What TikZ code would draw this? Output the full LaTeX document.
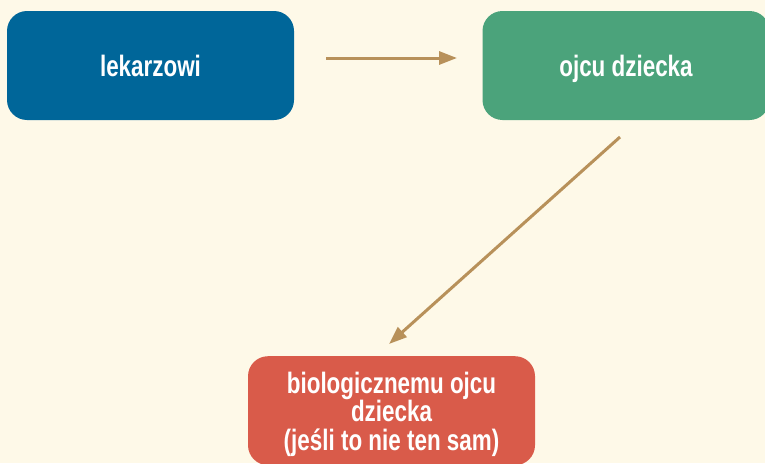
\documentclass[tikz,border=0pt]{standalone}
\usepackage{fontspec}
\setmainfont{Liberation Sans}[FakeStretch=0.76]
\usetikzlibrary{arrows.meta}
\definecolor{bg}{HTML}{FEF9E8}
\definecolor{cblue}{HTML}{006699}
\definecolor{cgreen}{HTML}{4BA37B}
\definecolor{cred}{HTML}{D95B4A}
\definecolor{carrow}{HTML}{B8915A}
\tikzset{
  lbl/.style={text=white, font=\fontsize{29.5pt}{28.5pt}\selectfont\bfseries, align=center},
  box/.style={lbl, rounded corners=20pt, minimum width=287pt, minimum height=109pt, inner sep=0pt,
    text height=21pt, text depth=0pt},
  conn/.style={draw=carrow, line width=3pt, -{Triangle[length=18pt,width=13pt]}}
}
\begin{document}
\begin{tikzpicture}[x=1pt,y=-1pt]
\fill[bg] (0,0) rectangle (765,463);
\useasboundingbox (0,0) rectangle (765,463);
\node[box, fill=cblue] (a) at (150.5,65.5) {lekarzowi};
\node[box, fill=cgreen] (b) at (626,65.5) {ojcu dziecka};
\node[box, fill=cred, anchor=north] (c) at (391.5,356) {};
\node[lbl, anchor=base] (ct) at (391.5,450) {biologicznemu ojcu\\dziecka\\(jeśli to nie ten sam)};
\coordinate (a1) at (326,58);
\coordinate (b1) at (457,58);
\coordinate (b2) at (620,137);
\coordinate (c1) at (389,344);
\draw[conn] (a1) -- (b1);
\draw[conn] (b2) -- (c1);
\end{tikzpicture}
\end{document}
